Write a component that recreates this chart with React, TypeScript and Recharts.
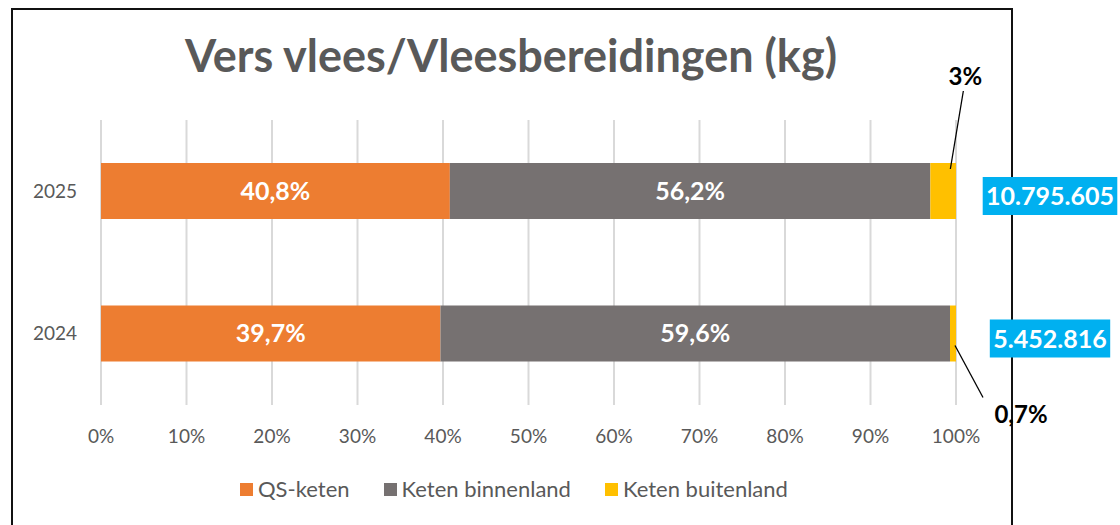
import { BarChart, Bar, XAxis, YAxis, CartesianGrid, LabelList, Legend } from 'recharts';

// Shares per chain (%) and total kg per year.
const years = ['2025', '2024'];
const seriesNames = ['QS-keten', 'Keten binnenland', 'Keten buitenland'];
const qsKeten = [40.8, 39.7];
const ketenBinnenland = [56.2, 59.6];
const ketenBuitenland = [3.0, 0.7];
const totals = [10795605, 5452816];
const xTicks = [0, 10, 20, 30, 40, 50, 60, 70, 80, 90, 100];

const data = years.map((year, i) => ({
  year,
  qs: qsKeten[i],
  binnen: ketenBinnenland[i],
  buiten: ketenBuitenland[i],
  total: totals[i],
}));

const FONT = 'Lato, "Noto Sans", sans-serif';
const GREY_TEXT = '#595959';

// leader-line callouts for the thin yellow segment, relative to the segment rect
const callouts = [
  { from: [20, 6], to: [33, -72], text: [35, -78] },
  { from: [5, 40], to: [33, 92], text: [71, 117] },
];

const fmtPct = (v: number) =>
  Number.isInteger(v) ? `${v}%` : `${v.toFixed(1).replace('.', ',')}%`;

const fmtKg = (v: number) => String(v).replace(/\B(?=(\d{3})+(?!\d))/g, '.');

const rectOf = (props: any) => {
  const vb = props.viewBox ?? props;
  return { x: Number(vb.x), y: Number(vb.y), width: Number(vb.width), height: Number(vb.height) };
};

function BuitenCallout(props: any) {
  const { x, y } = rectOf(props);
  const c = callouts[props.index];
  if (!c) return null;
  return (
    <g>
      <line
        x1={x + c.from[0]}
        y1={y + c.from[1]}
        x2={x + c.to[0]}
        y2={y + c.to[1]}
        stroke="#000"
        strokeWidth={1.3}
      />
      <text
        x={x + c.text[0]}
        y={y + c.text[1]}
        textAnchor="middle"
        fontFamily={FONT}
        fontSize={24}
        fontWeight={700}
        fill="#000"
      >
        {fmtPct(props.value)}
      </text>
    </g>
  );
}

function TotalBox(props: any) {
  const { x, y, width, height } = rectOf(props);
  const label = fmtKg(props.value);
  const digits = label.replace(/\./g, '').length;
  const dots = label.length - digits;
  const w = digits * 14.2 + dots * 6.5 + 8;
  const cx = x + width + 94;
  const cy = y + height / 2 + 5;
  return (
    <g>
      <rect x={cx - w / 2} y={cy - 19} width={w} height={38} fill="#00B0F0" />
      <text
        x={cx}
        y={cy}
        dy="0.36em"
        textAnchor="middle"
        fontFamily={FONT}
        fontSize={25}
        fontWeight={700}
        fill="#fff"
      >
        {label}
      </text>
    </g>
  );
}

function LegendRow(props: any) {
  const items = [...(props.payload ?? [])].sort(
    (a: any, b: any) => seriesNames.indexOf(a.value) - seriesNames.indexOf(b.value),
  );
  return (
    <div
      style={{
        display: 'flex',
        alignItems: 'center',
        height: 24,
        paddingLeft: 240,
        fontFamily: FONT,
        fontSize: 22,
        color: GREY_TEXT,
        lineHeight: '24px',
      }}
    >
      {items.map((p: any) => (
        <span key={p.value} style={{ display: 'flex', alignItems: 'center', marginRight: 34 }}>
          <span style={{ width: 13, height: 13, background: p.color, marginRight: 5 }} />
          {p.value}
        </span>
      ))}
    </div>
  );
}

export default function App() {
  return (
    <div style={{ position: 'absolute', left: 0, top: 0, width: 1120, height: 525, overflow: 'hidden', background: '#fff' }}>
      <div
        style={{
          position: 'absolute',
          left: 11,
          top: 8,
          width: 1002,
          height: 540,
          border: '2px solid #111',
          boxSizing: 'border-box',
        }}
      />
      <div
        style={{
          position: 'absolute',
          left: 0,
          width: 1022,
          top: 33,
          textAlign: 'center',
          fontFamily: FONT,
          fontWeight: 700,
          fontSize: 45,
          lineHeight: 1,
          color: GREY_TEXT,
        }}
      >
        Vers vlees/Vleesbereidingen (kg)
      </div>
      <div style={{ position: 'absolute', left: 0, top: 0 }}>
        <BarChart
          width={1120}
          height={525}
          data={data}
          layout="vertical"
          margin={{ top: 120, right: 164, bottom: 24, left: 0 }}
        >
          <CartesianGrid horizontal={false} stroke="#D9D9D9" strokeWidth={2} />
          <XAxis
            type="number"
            domain={[0, 100]}
            ticks={xTicks}
            tickFormatter={(v) => `${v}%`}
            axisLine={false}
            tickLine={false}
            tickSize={0}
            tickMargin={25}
            height={72}
            interval={0}
            tick={{ fontSize: 19, fill: GREY_TEXT, fontFamily: FONT }}
          />
          <YAxis
            type="category"
            dataKey="year"
            width={101}
            axisLine={false}
            tickLine={false}
            tickSize={0}
            tickMargin={24}
            tick={{ fontSize: 19, fill: GREY_TEXT, fontFamily: FONT }}
          />
          <Legend verticalAlign="bottom" content={LegendRow} wrapperStyle={{ left: 0, width: 1120 }} />
          <Bar dataKey="qs" name={seriesNames[0]} stackId="a" fill="#ED7D31" barSize={56} isAnimationActive={false}>
            <LabelList
              dataKey="qs"
              position="center"
              formatter={(v: any) => fmtPct(Number(v))}
              fill="#fff"
              fontSize={25}
              fontWeight={700}
              fontFamily={FONT}
            />
          </Bar>
          <Bar dataKey="binnen" name={seriesNames[1]} stackId="a" fill="#767171" barSize={56} isAnimationActive={false}>
            <LabelList
              dataKey="binnen"
              position="center"
              formatter={(v: any) => fmtPct(Number(v))}
              fill="#fff"
              fontSize={25}
              fontWeight={700}
              fontFamily={FONT}
            />
          </Bar>
          <Bar dataKey="buiten" name={seriesNames[2]} stackId="a" fill="#FFC000" barSize={56} isAnimationActive={false}>
            <LabelList dataKey="buiten" content={BuitenCallout} />
            <LabelList dataKey="total" content={TotalBox} />
          </Bar>
        </BarChart>
      </div>
    </div>
  );
}
